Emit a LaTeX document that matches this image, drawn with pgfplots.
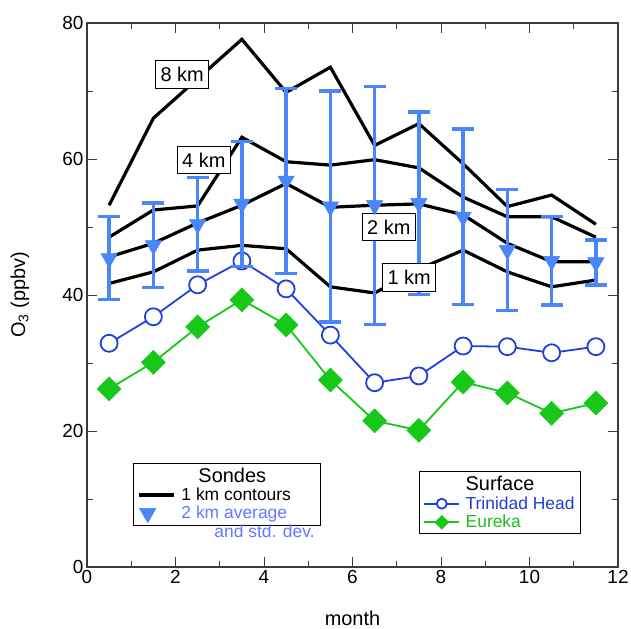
\documentclass[border=0pt]{standalone}
\usepackage{fontspec}
\setmainfont{Liberation Sans}
\usepackage{pgfplots}
\usepackage{pgfplotstable}
\pgfplotsset{compat=1.18}
\definecolor{tri}{RGB}{72,134,250}
\definecolor{trin}{RGB}{32,64,220}
\definecolor{eur}{RGB}{24,200,24}
\definecolor{trilab}{RGB}{100,120,255}
\definecolor{trinlab}{RGB}{40,60,210}
\definecolor{eurlab}{RGB}{30,190,30}
\definecolor{axgray}{RGB}{60,60,60}

\pgfplotstableread{
x    km1  km2  km4  km8
0.5  41.7 45.6 48.5 53.2
1.5  43.4 47.6 52.5 66.0
2.5  46.6 50.6 53.1 71.8
3.5  47.3 53.2 63.2 77.6
4.5  46.8 56.4 59.6 69.8
5.5  41.2 52.9 59.1 73.5
6.5  40.3 53.2 59.9 62.0
7.5  43.8 53.4 58.7 65.2
8.5  46.6 51.8 54.4 59.3
9.5  43.4 47.6 51.5 53.0
10.5 41.2 44.9 51.5 54.7
11.5 42.2 44.9 48.5 50.4
}\contours

\pgfplotstableread{
x    y    e
0.5  45.4 6.1
1.5  47.3 6.2
2.5  50.4 6.9
3.5  53.4 9.2
4.5  56.8 13.6
5.5  53.0 17.0
6.5  53.2 17.5
7.5  53.5 13.4
8.5  51.5 12.9
9.5  46.6 8.9
10.5 45.0 6.5
11.5 44.8 3.3
}\avgtwo

\pgfplotstableread{
x    trin eur
0.5  32.9 26.2
1.5  36.8 30.1
2.5  41.5 35.3
3.5  45.0 39.3
4.5  40.9 35.6
5.5  34.1 27.5
6.5  27.1 21.5
7.5  28.1 20.1
8.5  32.5 27.2
9.5  32.4 25.6
10.5 31.5 22.6
11.5 32.4 24.1
}\surface

\pgfplotsset{myaxis/.style={
  scale only axis, width=531bp, height=544bp,
  xmin=0, xmax=12, ymin=0, ymax=80,
  xtick={0,2,...,12}, ytick={0,20,...,80},
  minor x tick num=1, minor y tick num=1,
  tick align=inside,
  major tick length=10bp, minor tick length=6bp,
  every tick/.style={axgray, line width=1bp},
  axis line style={axgray, line width=1.2bp},
  ticklabel style={font=\fontsize{19}{19}\selectfont},
  /pgf/number format/assume math mode=true,
  label style={font=\fontsize{20}{20}\selectfont},
  legend cell align=left,
}}

\begin{document}
\begin{tikzpicture}
\useasboundingbox (-87bp,-62bp) rectangle (544bp,567bp);
% Surface axis (drawn first)
\begin{axis}[myaxis,
  xlabel={month}, ylabel={O\textsubscript{3} (ppbv)},
  xlabel style={at={(axis description cs:0.5,-0.094)}, anchor=center},
  ylabel style={at={(axis description cs:-0.126,0.5)}, anchor=center},
  legend style={at={(axis description cs:0.625,0.176)}, anchor=north west,
    draw=black, line width=1bp, fill=white,
    font=\fontsize{17.5}{18}\selectfont,
    inner xsep=4bp, inner ysep=3bp, row sep=1.5bp, column sep=4bp,
    nodes={inner sep=1.5bp}},
]
\addlegendimage{empty legend}
\addlegendentry{\fontsize{20}{20}\selectfont Surface}
\addplot[trin, line width=1.8bp, mark=*, mark size=8.5bp,
  mark options={fill=white, draw=trin, line width=1.8bp},
  legend image code/.code={
    \draw[trin, line width=1.8bp] (0bp,0bp) -- (35bp,0bp);
    \path plot[mark=*, mark size=5bp, mark options={fill=white, draw=trin, line width=1.8bp}] coordinates {(17.5bp,0bp)};
  }] table[x=x, y=trin] {\surface};
\addlegendentry{\textcolor{trinlab}{Trinidad Head}}
\addplot[eur, line width=1.8bp, mark=square*, mark size=8.5bp,
  mark options={fill=eur, draw=eur, rotate=45, line width=0.5bp},
  legend image code/.code={
    \draw[eur, line width=1.8bp] (0bp,0bp) -- (35bp,0bp);
    \path plot[mark=square*, mark size=4.3bp, mark options={fill=eur, draw=eur, rotate=45}] coordinates {(17.5bp,0bp)};
  }] table[x=x, y=eur] {\surface};
\addlegendentry{\textcolor{eurlab}{Eureka}}
\end{axis}
% Sondes axis
\begin{axis}[myaxis, hide axis,
  legend style={at={(axis description cs:0.0866,0.191)}, anchor=north west,
    draw=black, line width=1bp, fill=white,
    font=\fontsize{17.5}{18}\selectfont,
    inner xsep=4bp, inner ysep=3bp, row sep=1bp, column sep=4bp,
    nodes={inner sep=1.5bp}},
]
\addlegendimage{empty legend}
\addlegendentry{\hspace*{17bp}\fontsize{20}{20}\selectfont Sondes}
\addplot[black, line width=3.2bp,
  legend image code/.code={\draw[black, line width=3.5bp] (0bp,0bp) -- (35bp,0bp);}]
  table[x=x, y=km1] {\contours};
\addlegendentry{1 km contours}
\addplot[black, line width=3.2bp, forget plot] table[x=x, y=km2] {\contours};
\addplot[black, line width=3.2bp, forget plot] table[x=x, y=km4] {\contours};
\addplot[black, line width=3.2bp, forget plot] table[x=x, y=km8] {\contours};
\addplot[tri, only marks, mark=triangle*, mark size=9.5bp,
  mark options={rotate=180, fill=tri, draw=tri, line width=0.5bp},
  error bars/.cd, y dir=both, y explicit,
  error bar style={tri, line width=3.4bp},
  error mark options={rotate=90, tri, mark size=11bp, line width=3.4bp},
  ] table[x=x, y=y, y error=e] {\avgtwo};
\addlegendimage{legend image code/.code={
    \path (0bp,0bp) -- (35bp,0bp);
    \path plot[mark=triangle*, mark size=8.5bp, mark options={rotate=180, fill=tri, draw=tri}] coordinates {(17.5bp,0bp)};
  }}
\addlegendentry{\textcolor{trilab}{\begin{tabular}[t]{@{}l@{}}2 km average\\[1bp]\hspace*{33bp}and std. dev.\end{tabular}}}
\tikzset{kmlab/.style={draw=black, fill=white, line width=1bp, font=\fontsize{20}{20}\selectfont,
  text height=14.5bp, text depth=0bp, inner xsep=5bp, inner ysep=6.5bp}}
\node[kmlab] at (axis cs:2.15,72.4) {8 km};
\node[kmlab] at (axis cs:2.64,59.85) {4 km};
\node[kmlab] at (axis cs:6.82,50.0) {2 km};
\node[kmlab] at (axis cs:7.28,42.6) {1 km};
\end{axis}
\end{tikzpicture}
\end{document}
